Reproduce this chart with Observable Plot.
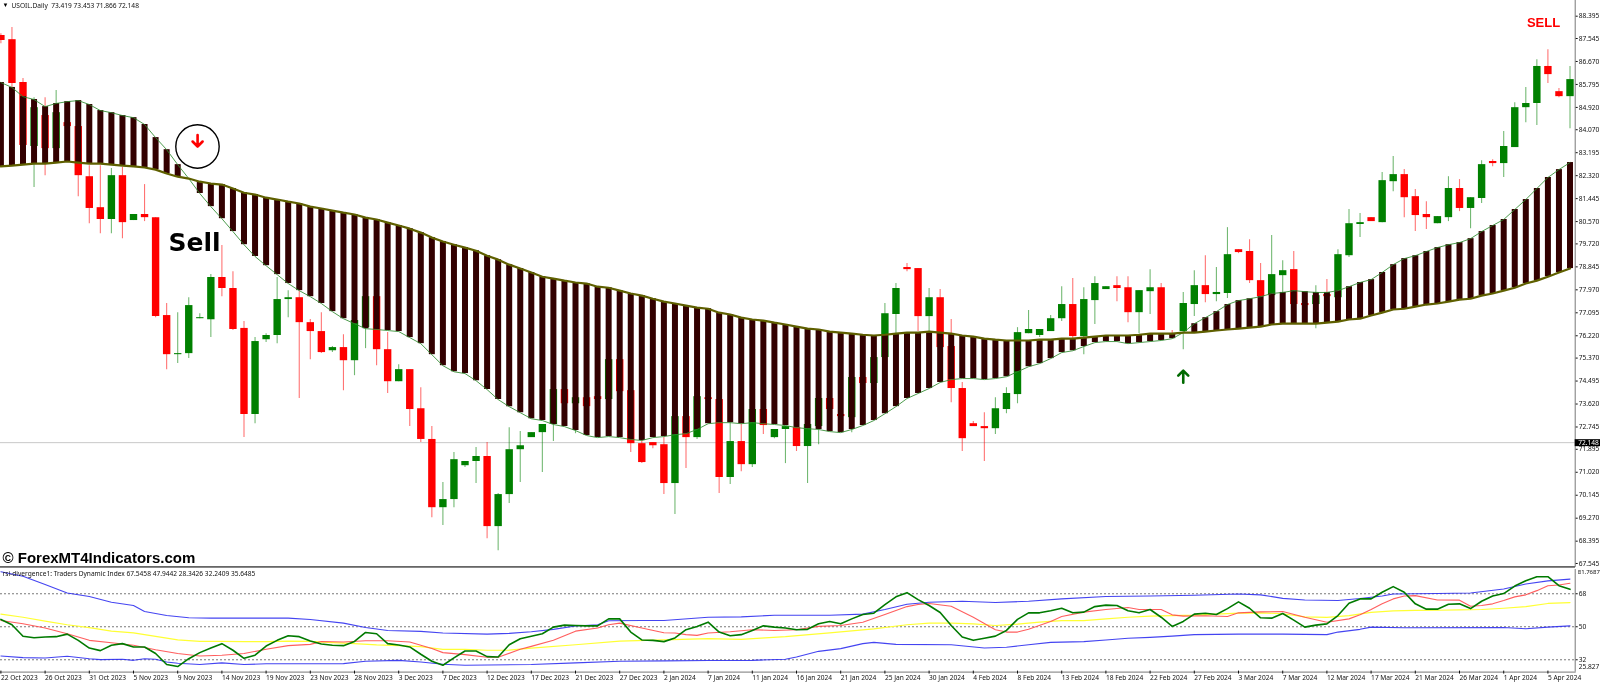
<!DOCTYPE html>
<html>
<head>
<meta charset="utf-8">
<script src="https://cdn.jsdelivr.net/npm/d3@7"></script>
<script src="https://cdn.jsdelivr.net/npm/@observablehq/plot@0.6"></script>
<style>
html,body{margin:0;padding:0;background:#fff;width:1600px;height:682px;overflow:hidden;color:#111}
#wrap{position:relative;width:1600px;height:682px;filter:blur(.3px)}
#top{position:absolute;left:0;top:0}
#bot{position:absolute;left:0;top:569px}
#sep{position:absolute;left:0;top:565.5px;width:1575px;height:2.5px;background:linear-gradient(#555,#999)}
</style>
</head>
<body>
<div id="wrap"><div id="top"></div><div id="bot"></div><div id="sep"></div></div>
<script>
const open=[87.66,87.50,85.87,83.43,84.61,83.35,84.34,84.19,82.28,81.10,80.65,82.32,80.61,80.84,80.72,76.99,75.50,75.54,76.87,76.83,78.44,78.02,76.50,73.22,76.07,76.23,77.60,77.67,76.72,76.38,75.65,75.77,75.27,76.53,77.71,75.69,74.47,74.93,73.44,72.27,69.67,69.98,71.27,71.43,71.62,68.95,70.17,71.88,72.34,72.53,72.84,74.17,73.63,73.86,73.90,73.79,75.31,74.13,72.11,72.15,72.07,70.59,73.14,72.34,73.86,73.79,70.82,72.19,71.31,73.41,72.34,72.65,72.72,72.00,72.76,73.83,73.22,73.10,74.63,74.40,75.39,77.03,78.82,78.78,76.95,77.67,75.81,74.21,72.87,72.76,72.68,73.41,73.98,76.30,76.23,76.38,76.87,77.41,76.19,77.56,77.98,78.13,78.05,77.10,77.90,78.05,76.30,76.38,77.41,78.13,77.79,77.83,79.50,79.43,78.32,77.75,78.51,78.74,77.45,77.41,77.79,77.67,79.27,80.46,80.72,80.53,82.09,82.36,81.52,80.84,80.49,80.72,81.83,81.07,81.45,82.86,82.78,83.39,84.91,85.07,86.48,85.52,85.33];
const close=[87.47,85.83,83.47,84.91,83.35,84.72,84.19,82.32,81.07,80.65,82.32,80.53,80.84,80.72,76.95,75.50,75.54,77.37,76.91,78.44,78.02,76.46,73.22,76.00,76.23,77.60,77.67,76.72,76.38,75.58,75.77,75.27,76.80,77.71,75.69,74.47,74.93,73.41,72.27,69.67,69.98,71.50,71.43,71.62,68.95,70.17,71.88,72.03,72.53,72.84,74.17,73.63,73.86,73.52,73.79,75.31,74.09,72.11,71.39,72.03,70.59,73.14,72.34,73.90,73.79,70.82,72.19,71.31,73.41,72.80,72.65,72.76,72.00,72.84,73.83,73.41,73.14,74.63,74.40,75.39,77.06,78.02,78.74,76.95,77.67,75.77,74.21,72.30,72.76,72.68,73.44,74.02,76.34,76.46,76.46,76.87,77.41,76.19,77.60,78.21,78.09,78.02,77.10,77.94,78.05,76.42,76.26,77.45,78.13,77.79,77.87,79.31,79.39,78.32,77.71,78.55,78.70,77.41,77.37,77.75,77.71,79.31,80.49,80.53,80.57,82.13,82.36,81.48,80.80,80.72,80.76,81.83,81.07,81.48,82.74,82.78,83.43,84.91,85.07,86.48,86.17,85.33,85.98];
const high=[87.73,87.96,86.02,85.29,85.29,85.56,84.34,84.19,82.70,82.70,82.59,82.63,80.84,81.98,80.72,77.45,77.10,77.67,77.06,78.55,79.66,78.66,76.76,76.15,76.30,78.44,77.94,77.94,76.84,77.10,75.81,76.26,76.99,77.71,77.71,76.34,75.12,74.93,74.24,72.76,70.63,71.77,71.43,71.96,72.15,70.21,72.72,72.57,72.53,72.84,74.17,74.17,73.86,73.86,73.90,75.31,75.31,74.13,72.23,72.15,72.34,73.14,73.14,73.90,73.86,73.79,72.91,72.87,73.41,73.41,72.65,72.76,72.72,72.84,73.83,73.83,73.22,74.63,74.63,75.39,77.45,78.21,78.97,78.78,78.02,77.98,76.84,74.44,72.95,73.29,73.86,74.24,76.53,77.18,76.46,76.99,78.09,78.40,78.05,78.47,78.09,78.47,78.47,77.94,78.74,78.21,76.42,77.87,78.70,79.27,78.82,80.34,79.50,79.88,78.97,80.04,79.08,79.43,77.45,78.13,78.36,79.50,81.03,80.88,80.72,82.44,83.05,82.55,81.79,81.33,80.76,82.28,82.17,81.48,82.89,82.93,84.00,85.10,85.68,86.74,87.12,85.64,86.48];
const low=[87.35,85.68,83.39,81.87,82.32,82.78,84.19,81.52,80.49,80.11,80.11,79.92,80.61,80.57,76.91,74.93,75.16,75.35,76.87,76.15,77.71,76.42,72.34,72.87,75.96,75.92,76.91,73.83,75.31,75.54,75.58,74.13,74.70,75.73,75.08,74.02,74.47,72.76,72.15,69.29,68.99,69.67,71.20,70.59,68.49,68.03,69.83,70.63,72.34,71.01,72.19,73.63,72.49,73.52,73.79,73.79,74.09,71.77,71.35,71.92,70.17,69.41,71.16,72.27,73.79,70.21,70.55,71.04,71.20,72.46,72.30,71.35,71.81,70.59,72.07,73.41,73.14,72.53,74.40,74.40,75.39,76.30,78.66,76.38,76.23,75.77,73.67,71.81,72.76,71.43,72.46,73.25,73.63,76.30,76.15,76.38,76.76,76.07,75.50,76.65,77.98,77.52,76.72,76.30,77.03,76.42,76.26,75.69,76.95,77.48,77.52,77.64,79.35,78.21,77.71,77.75,77.83,77.41,77.37,76.49,77.71,77.67,79.20,79.96,80.57,80.53,81.71,80.72,80.19,80.27,80.49,80.57,80.95,80.30,81.26,82.66,82.25,83.39,84.34,84.23,85.83,85.29,84.11];
const thinBand=[85.87,85.68,85.33,85.22,84.95,85.07,85.14,85.18,85.03,84.80,84.72,84.61,84.53,84.27,83.77,83.31,82.74,82.21,81.64,81.14,80.68,80.19,79.69,79.24,78.89,78.55,78.21,77.94,77.71,77.45,77.14,76.87,76.68,76.49,76.46,76.42,76.38,76.15,75.92,75.50,75.08,74.85,74.78,74.51,74.17,73.79,73.52,73.29,73.06,72.99,72.84,72.76,72.61,72.42,72.34,72.38,72.34,72.27,72.23,72.34,72.38,72.45,72.49,72.65,72.87,72.91,72.91,72.87,72.91,72.87,72.84,72.80,72.72,72.68,72.65,72.57,72.53,72.65,72.80,72.99,73.25,73.52,73.83,74.02,74.21,74.44,74.55,74.59,74.59,74.55,74.59,74.66,74.85,75.04,75.16,75.35,75.58,75.65,75.81,75.96,76.00,76.00,75.92,75.96,76.00,76.04,76.11,76.34,76.68,76.91,77.14,77.41,77.56,77.63,77.71,77.83,77.87,77.94,77.90,77.87,77.87,77.94,78.09,78.25,78.36,78.63,78.93,79.16,79.27,79.43,79.58,79.69,79.77,79.92,80.19,80.42,80.65,81.03,81.41,81.83,82.25,82.55,82.82];
const thickBand=[82.67,82.70,82.74,82.78,82.78,82.82,82.86,82.82,82.78,82.78,82.74,82.70,82.67,82.63,82.55,82.40,82.28,82.21,82.09,82.02,81.98,81.83,81.67,81.60,81.48,81.41,81.33,81.26,81.14,81.07,80.99,80.91,80.84,80.72,80.65,80.53,80.42,80.30,80.15,79.96,79.81,79.69,79.58,79.46,79.27,79.12,78.93,78.78,78.63,78.47,78.40,78.32,78.25,78.21,78.09,78.05,77.94,77.83,77.75,77.63,77.52,77.45,77.37,77.29,77.25,77.10,77.03,76.91,76.84,76.80,76.72,76.65,76.57,76.49,76.46,76.38,76.34,76.30,76.26,76.23,76.26,76.30,76.34,76.34,76.38,76.34,76.30,76.23,76.19,76.11,76.07,76.04,76.04,76.04,76.07,76.07,76.11,76.11,76.15,76.19,76.23,76.23,76.23,76.26,76.30,76.30,76.30,76.34,76.34,76.38,76.42,76.46,76.49,76.53,76.57,76.65,76.68,76.68,76.68,76.68,76.72,76.76,76.84,76.87,76.99,77.10,77.22,77.25,77.33,77.41,77.45,77.52,77.60,77.63,77.75,77.83,77.94,78.05,78.21,78.32,78.47,78.63,78.78];
const priceTicks=[88.395,87.545,86.670,85.795,84.920,84.070,83.195,82.320,81.445,80.570,79.720,78.845,77.970,77.095,76.220,75.370,74.495,73.620,72.745,71.895,71.020,70.145,69.270,68.395,67.545];
const dateLabels=["22 Oct 2023","26 Oct 2023","31 Oct 2023","5 Nov 2023","9 Nov 2023","14 Nov 2023","19 Nov 2023","23 Nov 2023","28 Nov 2023","3 Dec 2023","7 Dec 2023","12 Dec 2023","17 Dec 2023","21 Dec 2023","27 Dec 2023","2 Jan 2024","7 Jan 2024","11 Jan 2024","16 Jan 2024","21 Jan 2024","25 Jan 2024","30 Jan 2024","4 Feb 2024","8 Feb 2024","13 Feb 2024","18 Feb 2024","22 Feb 2024","27 Feb 2024","3 Mar 2024","7 Mar 2024","12 Mar 2024","17 Mar 2024","21 Mar 2024","26 Mar 2024","1 Apr 2024","5 Apr 2024"];
const tdiGreen=[54.0,51.1,44.8,44.0,44.4,44.6,46.0,42.6,38.4,37.0,39.9,40.8,39.0,39.0,35.4,29.4,28.3,32.6,35.9,38.4,40.8,37.2,32.8,34.5,39.5,42.6,45.1,44.6,42.2,40.6,39.9,39.7,42.0,46.9,46.2,40.8,40.1,39.0,35.0,31.2,29.0,33.0,36.8,36.8,33.7,33.5,40.2,43.5,44.8,46.2,49.8,50.9,50.7,50.5,50.5,54.3,54.3,47.1,42.8,42.6,41.9,43.9,48.4,50.2,52.5,47.1,45.1,45.7,48.0,50.5,49.8,49.3,48.4,48.6,51.6,52.9,51.6,54.3,56.7,57.4,62.1,66.3,68.6,64.8,61.6,57.8,50.7,44.4,42.6,43.7,44.9,48.0,54.0,57.6,57.6,58.7,60.1,57.6,58.0,61.0,61.8,61.6,58.7,57.6,59.4,55.2,50.2,52.9,56.9,57.4,56.7,59.9,63.6,60.1,54.9,54.7,57.2,53.6,49.8,50.9,51.6,56.1,62.8,65.2,65.2,68.8,71.9,68.8,62.5,59.6,59.6,62.3,62.5,59.9,63.9,66.8,68.1,72.2,75.1,77.3,77.3,72.4,70.4];
const redIdx=[0,2,4,6,8,10,12,14,16,18,20,22,24,26,28,29,31,33,35,37,39,40,42,44,45,47,48,50,52,54,55,56,58,60,61,62,63,64,66,68,70,72,74,76,78,80,82,83,84,86,88,90,91,92,93,95,96,98,100,102,103,105,106,107,109,111,112,114,116,118,120,122,123,124,125,126,127,128,130,132,133,134,135,136,137,138,139,140,141,142];
const tdiRed=[53.4,51.6,49.3,46.2,42.6,41.3,39.9,37.5,35.4,34.1,34.5,35.4,37.7,39.7,40.4,42.0,41.7,42.4,42.4,41.7,38.1,35.9,34.8,33.4,33.4,37.7,39.3,42.6,47.6,49.3,51.1,52.0,49.3,46.7,46.6,45.7,45.3,46.6,47.3,48.4,48.0,48.4,50.2,50.7,52.5,56.7,61.0,62.1,62.7,61.2,55.2,48.4,47.1,47.1,48.6,52.9,55.6,58.0,59.4,60.5,59.4,59.4,56.5,55.8,56.0,55.6,57.6,58.1,58.3,55.2,52.5,54.3,56.5,59.4,62.5,65.2,66.8,67.0,64.6,64.5,61.2,61.6,62.5,64.3,66.3,67.4,69.7,72.4,72.8,73.7];
const yellowIdx=[0,2,4,6,8,10,12,14,16,18,20,22,24,26,28,30,32,34,36,38,40,42,44,46,48,52,56,60,64,67,71,75,79,82,84,86,88,90,92,94,96,98,100,102,104,106,108,110,112,114,116,118,120,122,124,126,128,130,132,134,136,138,140,142];
const tdiYellow=[56.9,55.2,53.1,51.1,49.5,47.6,46.7,44.8,42.9,42.0,42.0,41.9,41.9,42.2,42.0,41.3,40.8,40.1,39.7,39.2,37.7,37.7,37.2,37.3,38.4,40.2,42.2,42.8,43.5,43.1,44.6,46.7,48.9,51.1,52.0,52.0,51.6,50.7,51.4,52.5,53.3,53.4,54.3,55.2,55.8,56.1,56.3,56.9,57.4,57.6,57.1,55.4,55.1,56.1,57.8,58.7,58.9,59.0,59.2,59.4,60.1,61.0,62.7,63.2];
const upperIdx=[0,2,4,6,8,10,12,13,15,17,19,22,26,28,31,33,35,38,40,44,46,48,50,52,54,55,58,60,64,67,70,73,75,78,80,82,84,87,90,93,96,100,104,108,112,114,116,118,121,123,125,126,130,133,136,138,140,142];
const tdiUpper=[80.0,77.5,73.0,68.4,66.5,63.4,61.6,58.3,56.1,54.9,54.7,54.7,54.7,54.0,52.0,49.6,48.0,47.5,46.6,46.0,46.4,47.3,48.6,50.4,51.1,53.3,53.4,53.4,55.2,55.4,56.3,56.3,56.3,56.9,59.4,62.3,63.4,63.9,63.2,63.9,65.2,66.5,66.8,67.2,67.9,67.4,65.5,64.6,64.3,65.4,66.8,67.9,68.1,68.4,70.6,73.3,75.0,76.0];
const lowerIdx=[0,2,4,6,8,9,11,12,13,14,15,16,18,20,22,24,28,31,33,36,38,40,42,48,52,56,60,64,68,71,72,74,76,78,79,81,86,89,91,93,95,98,100,102,104,106,108,112,116,120,121,123,124,127,136,138,140,142];
const tdiLower=[34.1,33.2,33.0,33.9,32.6,32.1,32.3,31.7,32.6,32.3,30.8,30.1,29.4,30.3,29.4,29.8,29.8,29.9,31.2,31.7,30.8,29.6,29.0,29.4,30.3,31.2,31.4,31.6,31.7,32.3,33.5,36.6,38.1,40.8,41.5,40.4,40.2,38.4,38.8,40.2,41.5,41.9,42.8,43.7,44.2,44.9,45.7,46.0,46.0,45.7,47.1,48.6,49.8,49.5,49.6,48.9,49.8,50.5];
const levels=[68,50,32];
const lastPrice=72.148;
const tdiMax=81.7687, tdiMin=25.827;

const UP="#008000",DOWN="#ff0000",FONT="Noto Sans, sans-serif";
const bars=open.map((o,i)=>({i,o,c:close[i],h:high[i],l:low[i],col:close[i]>=o?UP:DOWN,a:thinBand[i],b:thickBand[i]}));
const xDomain=[-0.036,142.47];
// MT4-style arrow: a shaft with a wide, short head
const mtArrow={draw(ctx,l){const h=l/2;ctx.moveTo(0,h);ctx.lineTo(0,-h);ctx.moveTo(-5,-h+5);ctx.lineTo(0,-h);ctx.lineTo(5,-h+5);}};

const topPlot=Plot.plot({
  width:1600,height:569,marginTop:0,marginBottom:3,marginLeft:0,marginRight:25.3,
  x:{domain:xDomain,axis:null},
  y:{domain:[67.43,88.993],axis:null},
  style:{fontFamily:FONT,fontSize:"6.6px",background:"#fff",color:"#111"},
  marks:[
    Plot.ruleY([lastPrice],{stroke:"#c8c8c8",strokeWidth:1}),
    Plot.ruleX(bars,{x:"i",y1:"l",y2:"h",stroke:"col",strokeWidth:1.1,strokeOpacity:.55}),
    Plot.ruleX(bars,{x:"i",y1:"o",y2:"c",stroke:"col",strokeWidth:7.4}),
    Plot.ruleX(bars,{x:"i",y1:"a",y2:"b",stroke:"#330000",strokeWidth:6}),
    Plot.line(bars,{x:"i",y:"a",stroke:"#2e8b2e",strokeWidth:1,strokeOpacity:.85}),
    Plot.line(bars,{x:"i",y:"b",stroke:"#5f6000",strokeWidth:2.2}),
    Plot.dot([{i:17.79,p:83.43}],{x:"i",y:"p",r:21.7,stroke:"#000",strokeWidth:1.4,fill:"none"}),
    Plot.vector([{i:17.8,p:83.43}],{x:"i",y:"p",rotate:180,length:11.5,stroke:DOWN,strokeWidth:2.6,anchor:"middle",shape:mtArrow}),
    Plot.vector([{i:107,p:74.89}],{x:"i",y:"p",rotate:0,length:12,stroke:"#006a00",strokeWidth:2.6,anchor:"middle",shape:mtArrow}),
    Plot.text(["Sell"],{x:[17.52],y:[79.77],fontFamily:"DejaVu Sans",fontWeight:"bold",fontSize:25,fill:"#000"}),
    Plot.text(["SELL"],{x:[139.6],y:[88.15],fontFamily:"Liberation Sans",fontWeight:"bold",fontSize:13,fill:DOWN}),
    Plot.text(["© ForexMT4Indicators.com"],{x:[0.15],y:[67.73],textAnchor:"start",fontFamily:"Liberation Sans",fontWeight:"bold",fontSize:15,fill:"#000"}),
    Plot.text(["USOIL.Daily  73.419 73.453 71.866 72.148"],{frameAnchor:"top-left",dx:11,dy:5,textAnchor:"start",fontSize:6.6,lineAnchor:"middle"}),
    Plot.text(["▼"],{frameAnchor:"top-left",dx:2,dy:5,textAnchor:"start",fontSize:6,lineAnchor:"middle",fill:"#000"}),
    Plot.frame({anchor:"right",stroke:"#777",strokeWidth:1}),
    Plot.axisY({ticks:priceTicks,anchor:"right",tickSize:2,tickPadding:1.5,tickFormat:d3.format(".3f"),label:null,fontSize:6.6}),
    Plot.ruleY([lastPrice],{x1:xDomain[1],x2:xDomain[1]+2.3,stroke:"#000",strokeWidth:7}),
    Plot.text([lastPrice],{x:xDomain[1],y:d=>d,dx:3,text:d=>d3.format(".3f")(d),textAnchor:"start",fill:"#fff",fontSize:6.6})
  ]
});
document.getElementById("top").appendChild(topPlot);

const tdiLine=(ix,vals,stroke,w,op)=>Plot.line(vals,{x:(d,k)=>ix?ix[k]:k,y:d=>d,stroke,strokeWidth:w,strokeOpacity:op??1});
const botPlot=Plot.plot({
  width:1600,height:113,marginTop:0,marginBottom:11.4,marginLeft:0,marginRight:25.3,
  x:{domain:xDomain,axis:null},
  y:{domain:[tdiMin,tdiMax-1/1.833],axis:null},
  style:{fontFamily:FONT,fontSize:"6.6px",background:"#fff",color:"#111"},
  marks:[
    Plot.ruleY(levels,{stroke:"#555",strokeWidth:.8,strokeDasharray:"2 2"}),
    tdiLine(upperIdx,tdiUpper,"#3030f0",1.1,.9),
    tdiLine(lowerIdx,tdiLower,"#3030f0",1.1,.9),
    tdiLine(yellowIdx,tdiYellow,"#ffff33",1.2),
    tdiLine(redIdx,tdiRed,"#ff4d4d",1.1,.9),
    tdiLine(null,tdiGreen,"#007a00",1.6),
    Plot.text(["rsi-divergence1: Traders Dynamic Index 67.5458 47.9442 28.3426 32.2409 35.6485"],{frameAnchor:"top-left",dx:2,dy:4,textAnchor:"start",lineAnchor:"middle",fontSize:6.6}),
    Plot.frame({anchor:"right",stroke:"#777",strokeWidth:1}),
    Plot.frame({anchor:"bottom",stroke:"#777",strokeWidth:1,dy:1}),
    Plot.axisY({ticks:levels,anchor:"right",tickSize:2,tickPadding:1.5,tickFormat:d=>String(d),label:null,fontSize:6.6}),
    Plot.text([tdiMax-1/1.833],{x:xDomain[1],dx:2.5,y:d=>d,dy:3,text:()=>String(tdiMax),textAnchor:"start",fontSize:6}),
    Plot.text([tdiMin],{x:xDomain[1],y:d=>d,dx:3.5,dy:-4,text:d=>String(d),textAnchor:"start",fontSize:6.6}),
    Plot.axisX({ticks:dateLabels.map((_,k)=>k*4),anchor:"bottom",tickSize:3,tickPadding:1,textAnchor:"start",tickFormat:v=>dateLabels[v/4],label:null,fontSize:6.6})
  ]
});
document.getElementById("bot").appendChild(botPlot);
</script>
</body>
</html>
